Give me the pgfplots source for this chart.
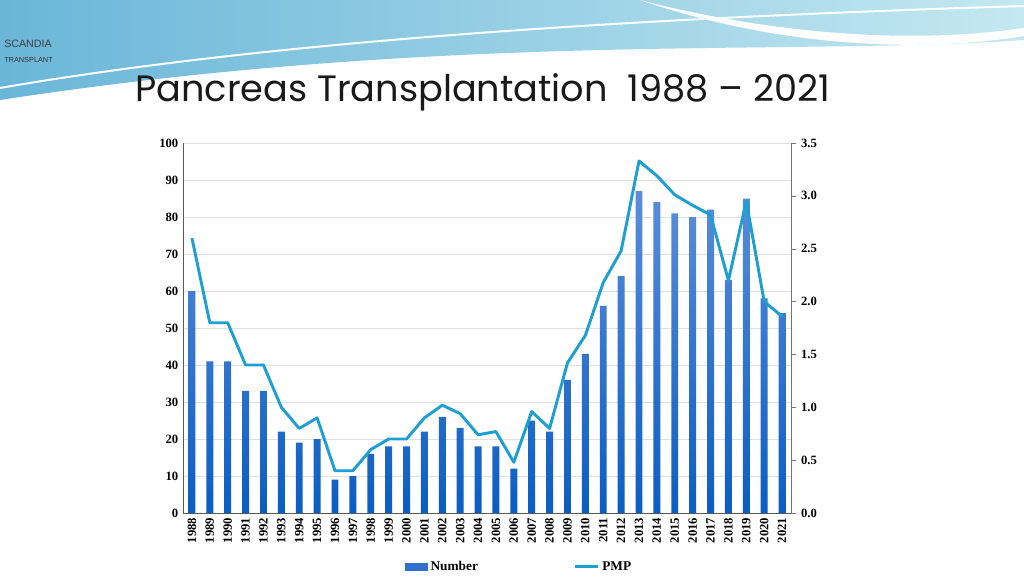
\documentclass[border=0pt]{standalone}
\usepackage{pgfplots}
\pgfplotsset{compat=1.18}
\usepackage{pgfplotstable}
\usepackage{fontspec}
\setmainfont{Liberation Serif}
\newfontfamily\titlefont{Poppins}
\newfontfamily\logofont{Liberation Sans}

\definecolor{barblue}{HTML}{2F6FCF}
\definecolor{bartop}{HTML}{5B8ED9}
\definecolor{barbot}{HTML}{0B5DC2}
\definecolor{pmpcol}{HTML}{1E9FD2}
\definecolor{wavedark}{HTML}{6AB6D8}
\definecolor{wavelight}{HTML}{C4E8F1}

% year, number of transplants, per million population
\pgfplotstableread{
year number pmp
1988 60 2.60
1989 41 1.80
1990 41 1.80
1991 33 1.40
1992 33 1.40
1993 22 1.00
1994 19 0.80
1995 20 0.90
1996  9 0.40
1997 10 0.40
1998 16 0.60
1999 18 0.70
2000 18 0.70
2001 22 0.90
2002 26 1.02
2003 23 0.94
2004 18 0.74
2005 18 0.77
2006 12 0.48
2007 25 0.96
2008 22 0.80
2009 36 1.42
2010 43 1.68
2011 56 2.18
2012 64 2.48
2013 87 3.33
2014 84 3.19
2015 81 3.01
2016 80 2.91
2017 82 2.82
2018 63 2.20
2019 85 2.95
2020 58 2.00
2021 54 1.86
}\pancreas

\begin{document}
\begin{tikzpicture}[x=0.75pt,y=0.75pt]
\useasboundingbox (0,0) rectangle (1024,576);
\fill[white] (0,0) rectangle (1024,576);

% header waves
\shade[left color=wavedark, right color=wavelight]
  (0,576) -- (1024,576) -- (1024,536)
  .. controls (800,520) and (450,545) .. (0,476) -- cycle;
\fill[white] (640,576) .. controls (760,545) and (900,530) .. (1024,548)
  -- (1024,540) .. controls (900,520) and (760,535) .. (640,576) -- cycle;
\draw[white, line width=1.5pt] (0,488) .. controls (300,540) and (700,560) .. (1024,570);

% logo text
\node[anchor=west, inner sep=0, font=\logofont\fontsize{8}{9}\selectfont, text=black!75] at (4,532) {SCANDIA};
\node[anchor=west, inner sep=0, font=\logofont\fontsize{5.5}{6}\selectfont, text=black!80] at (4,516) {TRANSPLANT};

% title
\node[anchor=base west, inner sep=0, text=black!90] at (135,474)
  {\resizebox{521pt}{!}{\titlefont Pancreas Transplantation\ \ 1988 – 2021}};

\begin{axis}[
  at={(137.25pt,47.25pt)}, anchor=south west,
  scale only axis, width=456pt, height=277.5pt,
  xmin=1987.5, xmax=2021.5, ymin=0, ymax=100,
  axis x line*=bottom, axis y line*=left,
  axis line style={draw=black!65},
  xtick={1988,...,2021}, ytick={0,10,...,100},
  tick style={draw=none},
  ymajorgrids, major grid style={draw=black!12},
  xticklabel style={rotate=90, anchor=east},
  ticklabel style={font=\fontsize{9.5}{11}\selectfont\bfseries},
  /pgf/number format/1000 sep={},
  /pgf/number format/assume math mode=true,
]
\addplot[ybar, bar width=5.2pt, draw=none, top color=bartop, bottom color=barbot]
  table[x=year, y=number] {\pancreas};
\end{axis}

\begin{axis}[
  at={(137.25pt,47.25pt)}, anchor=south west,
  scale only axis, width=456pt, height=277.5pt,
  xmin=1987.5, xmax=2021.5, ymin=0, ymax=3.5,
  axis x line=none, axis y line*=right,
  axis line style={draw=black!55},
  ytick={0,0.5,...,3.5},
  tick align=outside, major tick length=4pt,
  ytick style={draw=black!55},
  yticklabel style={/pgf/number format/.cd, fixed, fixed zerofill, precision=1},
  ticklabel style={font=\fontsize{9.5}{11}\selectfont\bfseries},
  /pgf/number format/assume math mode=true,
  legend columns=2,
  legend style={at={(0.553,0)}, anchor=north, yshift=-32pt, draw=none,
    fill=none, font=\fontsize{10}{12}\selectfont\bfseries,
    /tikz/every even column/.append style={column sep=70pt}},
]
\addlegendimage{legend image code/.code={\fill[barblue] (0cm,-0.09cm) rectangle (0.6cm,0.09cm);}}
\addlegendentry{Number}
\addplot[pmpcol, line width=2.2pt, line join=round] table[x=year, y=pmp] {\pancreas};
\addlegendentry{PMP}
\end{axis}
\end{tikzpicture}
\end{document}
